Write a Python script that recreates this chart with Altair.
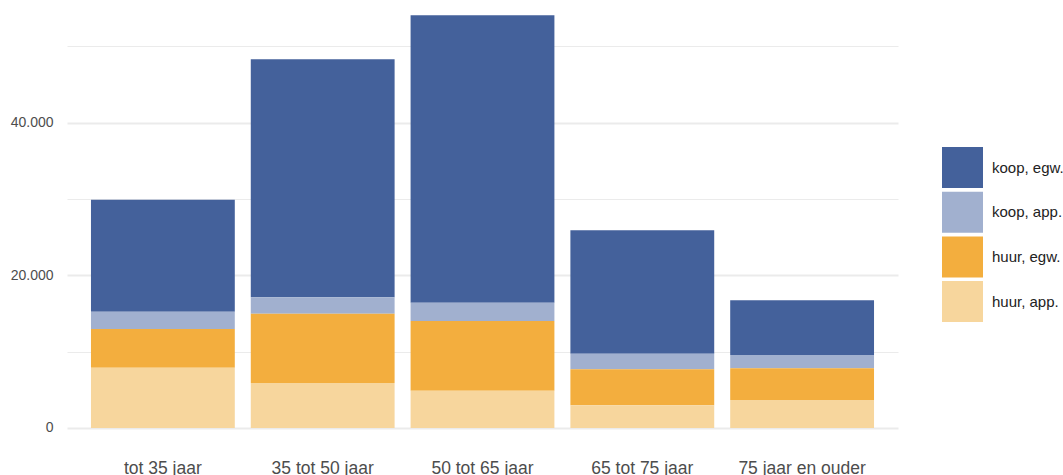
import altair as alt
import pandas as pd

# Age groups on the x axis
age_groups = ["tot 35 jaar", "35 tot 50 jaar", "50 tot 65 jaar", "65 tot 75 jaar", "75 jaar en ouder"]

# Housing categories (legend order, top of the stack first)
categories = ["koop, egw.", "koop, app.", "huur, egw.", "huur, app."]
colors = ["#44619b", "#a1b0cf", "#f3ae3e", "#f7d69d"]

# Number of households per category, per age group
koop_egw = [14670, 31170, 37640, 16160, 7160]
koop_app = [2260, 2150, 2400, 2040, 1740]
huur_egw = [5070, 9080, 9120, 4720, 4150]
huur_app = [7900, 5890, 4890, 2970, 3670]

series = {
    "koop, egw.": koop_egw,
    "koop, app.": koop_app,
    "huur, egw.": huur_egw,
    "huur, app.": huur_app,
}
# stacking order: rental flats at the bottom, owner-occupied houses on top
stack_rank = {"huur, app.": 0, "huur, egw.": 1, "koop, app.": 2, "koop, egw.": 3}

rows = []
for cat, vals in series.items():
    for age, v in zip(age_groups, vals):
        rows.append({"leeftijd": age, "type": cat, "aantal": v, "rang": stack_rank[cat]})
df = pd.DataFrame(rows)

y_ticks = [0, 10000, 20000, 30000, 40000, 50000]

chart = (
    alt.Chart(df)
    .mark_bar(opacity=1)
    .encode(
        x=alt.X(
            "leeftijd:N",
            sort=age_groups,
            title=None,
            scale=alt.Scale(paddingInner=0.1, paddingOuter=0.15),
            axis=alt.Axis(
                labelAngle=0,
                ticks=False,
                domain=False,
                grid=False,
                labelFontSize=17.5,
                labelColor="#4d4d4d",
                labelFont="Liberation Sans",
                labelPadding=11,
            ),
        ),
        y=alt.Y(
            "aantal:Q",
            stack="zero",
            title=None,
            scale=alt.Scale(domain=[-2620, 56058], nice=False, zero=False),
            axis=alt.Axis(
                values=y_ticks,
                labelExpr="datum.value % 20000 === 0 ? replace(format(datum.value, ','), ',', '.') : ''",
                ticks=False,
                domain=False,
                grid=True,
                gridColor="#ebebeb",
                gridWidth={"condition": {"test": "datum.value % 20000 === 0", "value": 1.8}, "value": 1.0},
                labelFontSize=14,
                labelColor="#4d4d4d",
                labelFont="Liberation Sans",
                labelPadding=14,
            ),
        ),
        color=alt.Color(
            "type:N",
            scale=alt.Scale(domain=categories, range=colors),
            legend=alt.Legend(
                title=None,
                orient="none",
                legendX=875,
                legendY=147,
                padding=0,
                symbolType="square",
                symbolSize=1681,
                symbolStrokeWidth=0,
                symbolOpacity=1,
                labelFontSize=15,
                labelFont="Liberation Sans",
                labelColor="#222222",
                labelOffset=9,
                labelLimit=200,
                rowPadding=3.7,
            ),
        ),
        order=alt.Order("rang:Q", sort="ascending"),
    )
    .properties(
        width=831,
        height=448,
        background="white",
        autosize=alt.AutoSizeParams(type="none"),
        padding={"left": 67, "top": 0, "right": 165, "bottom": 27},
    )
    .configure_view(strokeWidth=0, stroke="transparent")
)

chart.save("out.html", embed_options={"renderer": "svg", "actions": False})
